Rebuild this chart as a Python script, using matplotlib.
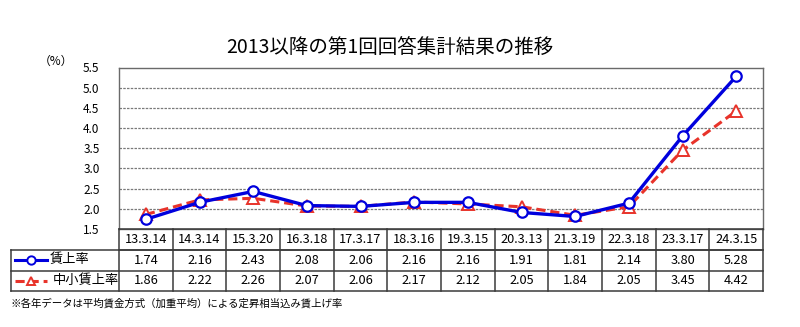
import numpy as np
import matplotlib.pyplot as plt
import matplotlib.transforms as mtransforms
from matplotlib.lines import Line2D

plt.rcParams['font.family'] = ['Noto Sans CJK JP', 'DejaVu Sans']

# data
dates = ['13.3.14', '14.3.14', '15.3.20', '16.3.18', '17.3.17', '18.3.16',
         '19.3.15', '20.3.13', '21.3.19', '22.3.18', '23.3.17', '24.3.15']
all_rate = [1.74, 2.16, 2.43, 2.08, 2.06, 2.16, 2.16, 1.91, 1.81, 2.14, 3.80, 5.28]
small_rate = [1.86, 2.22, 2.26, 2.07, 2.06, 2.17, 2.12, 2.05, 1.84, 2.05, 3.45, 4.42]
series_names = ['賃上率', '中小賃上率']
title = '2013以降の第1回回答集計結果の推移'
note = '※各年データは平均賃金方式（加重平均）による定昇相当込み賃上げ率'

blue = '#0000dd'
red = '#e8332a'
W, H = 800, 327

fig = plt.figure(figsize=(W / 100, H / 100), dpi=100)
ax = fig.add_axes([119 / W, 1 - 229 / H, 644 / W, (229 - 67.5) / H])

x = np.arange(len(dates))
ax.plot(x, all_rate, color=blue, lw=2.4, marker='o', ms=7.5,
        mfc='white', mec=blue, mew=1.6, zorder=4)
ax.plot(x, small_rate, color=red, lw=2.2, ls=(0, (3, 1.6)), marker='^', ms=8,
        mfc='white', mec=red, mew=1.4, zorder=3)

ax.set_xlim(-0.5, len(dates) - 0.5)
ax.set_ylim(1.5, 5.5)
ax.set_yticks(np.arange(1.5, 5.51, 0.5))
ax.set_yticklabels([f'{v:.1f}' for v in np.arange(1.5, 5.51, 0.5)], fontsize=8.5)
ax.tick_params(axis='y', length=0, pad=14)
ax.set_xticks([])
for y in np.arange(2.0, 5.01, 0.5):
    ax.axhline(y, color='#7a7a7a', lw=0.9, ls=(0, (2, 1)), zorder=1)
for s in ax.spines.values():
    s.set_color('#6a6a6a')
    s.set_linewidth(1.0)

fig.text(390 / W, 1 - 48 / H, title, fontsize=14, ha='center', va='center')
fig.text(56 / W, 1 - 61 / H, '（%）', fontsize=8.5, ha='center', va='center')

# data table under the chart
trans = mtransforms.blended_transform_factory(ax.transData, fig.transFigure)
fy = lambda p: 1 - p / H
row_y = [229, 249.5, 270.5, 291]
lc = '#3a3a3a'
edges = np.arange(len(dates) + 1) - 0.5
for px in row_y[:2]:
    fig.add_artist(Line2D([edges[0], edges[-1]], [fy(px)] * 2, transform=trans, color=lc, lw=1.1))
for px in row_y[1:]:
    fig.add_artist(Line2D([11 / W, 763 / W], [fy(px)] * 2, transform=fig.transFigure, color=lc, lw=1.1))
for e in edges:
    fig.add_artist(Line2D([e, e], [fy(row_y[0]), fy(row_y[-1])], transform=trans, color=lc, lw=1.1))
fig.add_artist(Line2D([11 / W, 11 / W], [fy(row_y[1]), fy(row_y[-1])],
                      transform=fig.transFigure, color=lc, lw=1.1))

for row, vals in enumerate([dates, [f'{v:.2f}' for v in all_rate], [f'{v:.2f}' for v in small_rate]]):
    yc = fy((row_y[row] + row_y[row + 1]) / 2)
    for xi, v in zip(x, vals):
        fig.text(xi, yc, v, transform=trans, fontsize=9.2, ha='center', va='center')

# legend samples in the row headers
for row, (name, col, mk, ls) in enumerate([(series_names[0], blue, 'o', '-'),
                                           (series_names[1], red, '^', (0, (3, 1.6)))]):
    yc = fy((row_y[row + 1] + row_y[row + 2]) / 2)
    fig.add_artist(Line2D([15 / W, 47 / W], [yc, yc], transform=fig.transFigure,
                          color=col, lw=2.2, ls=ls))
    fig.add_artist(Line2D([31 / W], [yc], transform=fig.transFigure, marker=mk, ms=6,
                          mfc='white', mec=col, mew=1.4, ls='none'))
    fig.text(50 / W if row == 0 else 53 / W, yc, name, fontsize=9.5, ha='left', va='center')

fig.text(10 / W, fy(303), note, fontsize=7.5, ha='left', va='center')

fig.savefig('out.png', dpi=100)
